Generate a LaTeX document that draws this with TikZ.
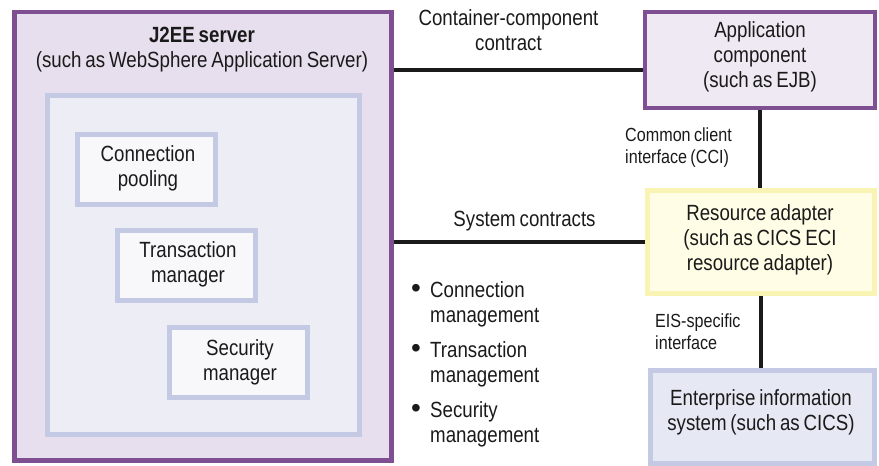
\documentclass[tikz,border=0pt]{standalone}
\usepackage{fontspec}
\setmainfont{Liberation Sans}[FakeStretch=0.85, WordSpace=0.75]
\newfontfamily\bulletfont{Liberation Sans}

\definecolor{purp}{HTML}{7E5091}
\definecolor{srvfill}{HTML}{E7DFED}
\definecolor{lav}{HTML}{C4CAE4}
\definecolor{areafill}{HTML}{EDEDF5}
\definecolor{partfill}{HTML}{F8F8FB}
\definecolor{appfill}{HTML}{EEE9F3}
\definecolor{ylw}{HTML}{FAF4B4}
\definecolor{rafill}{HTML}{FFFDE6}
\definecolor{eisfill}{HTML}{E6E8F3}
\definecolor{ink}{HTML}{1A1A1A}

% bullet of the contract list, set a little larger than the text
\newcommand{\listdot}{\makebox[30pt][l]{\hspace{11pt}{\bulletfont\fontsize{28}{25}\selectfont\textbullet}}}

\begin{document}
\begin{tikzpicture}[x=1pt, y=-1pt,
  server/.style={draw=purp, line width=4.5pt, fill=srvfill, inner sep=0pt},
  area/.style={draw=lav, line width=5pt, fill=areafill, inner sep=0pt},
  part/.style={draw=lav, line width=5pt, fill=partfill, inner sep=0pt,
               minimum width=138pt, minimum height=70pt},
  appbox/.style={draw=purp, line width=4.5pt, fill=appfill, inner sep=0pt},
  rabox/.style={draw=ylw, line width=5pt, fill=rafill, inner sep=0pt},
  eisbox/.style={draw=lav, line width=5pt, fill=eisfill, inner sep=0pt},
  txt/.style={font=\fontsize{22}{25}\selectfont, align=center, text=ink, inner sep=0pt},
  item/.style={font=\fontsize{22}{25}\selectfont, align=left, text=ink, inner sep=0pt, anchor=west},
  lbl/.style={font=\fontsize{19}{22}\selectfont, align=left, text=ink, inner sep=0pt, anchor=west},
  conn/.style={draw=ink, line width=4pt}]

\useasboundingbox (0,0) rectangle (879,466);

% J2EE server with its container area and services
\node[server, minimum width=377pt, minimum height=448.5pt] (j2ee) at (203,236.25) {};
\node[txt] (j2eetitle) at (202,50)
  {\textbf{J2EE server}\\(such as WebSphere Application Server)};
\node[area, minimum width=312pt, minimum height=339pt] (area) at (203.5,265) {};

\node[part] (pool) at (146.5,169.5) {};
\node[txt] (pooltext) at (148,168.6) {Connection\\pooling};
\node[part] (txn) at (186.5,265.5) {};
\node[txt] (txntext) at (188,264.8) {Transaction\\manager};
\node[part] (sec) at (238.5,362.5) {};
\node[txt] (sectext) at (240,362) {Security\\manager};

% right-hand column
\node[appbox, minimum width=230pt, minimum height=96pt] (app) at (760,60) {};
\node[txt] (apptext) at (760,56.5) {Application\\component\\(such as EJB)};

\node[rabox, minimum width=227pt, minimum height=103pt] (ra) at (760.5,241.5) {};
\node[txt] (ratext) at (760,240) {Resource adapter\\(such as CICS ECI\\resource adapter)};

\node[eisbox, minimum width=224pt, minimum height=93pt] (eis) at (762,416.5) {};
\node[txt] (eistext) at (761,412) {Enterprise information\\system (such as CICS)};

% contracts between the server and the components
\coordinate (cctap) at ([yshift=-10pt]app.west);
\draw[conn] (j2ee.east |- cctap) -- (cctap);
\node[txt] (cclabel) at (508.5,30) {Container-component\\contract};

\draw[conn] (j2ee.east |- ra.west) -- (ra.west);
\node[txt] (syslabel) at (524.5,221.4) {System contracts};

\node[item] (item1) at (400,303.9)
  {\listdot Connection\\\hspace*{30pt}management};
\node[item] (item2) at (400,363.9)
  {\listdot Transaction\\\hspace*{30pt}management};
\node[item] (item3) at (400,423.9)
  {\listdot Security\\\hspace*{30pt}management};

% interfaces down the right-hand column
\draw[conn] (app.south) -- (app.south |- ra.north);
\node[lbl] (ccilabel) at (625,147.2) {Common client\\interface (CCI)};

\draw[conn] (ra.south) -- (ra.south |- eis.north);
\node[lbl] (eislabel) at (655,332.2) {EIS-specific\\interface};

\end{tikzpicture}
\end{document}
